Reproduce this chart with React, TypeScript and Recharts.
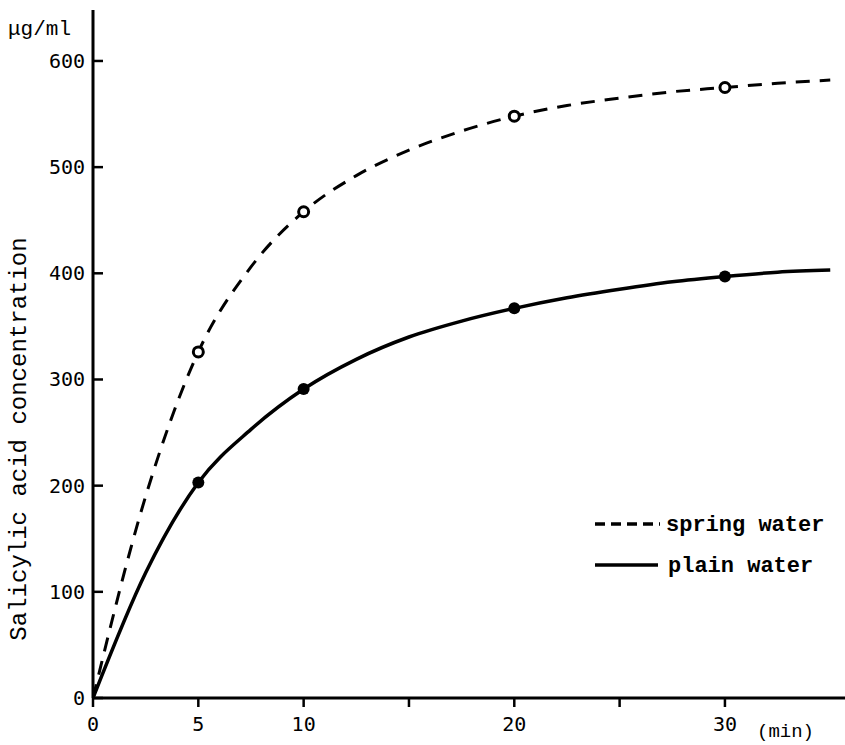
import React from "react";
import { LineChart, Line, XAxis, YAxis, Legend, Customized } from "recharts";

// minutes after ingestion
const TIME = [0, 2.5, 5, 7.5, 10, 12.5, 15, 17.5, 20, 22.5, 25, 27.5, 30, 32.5, 35];
// salicylic acid concentration (ug/ml)
const SPRING = [0, 190, 326, 406, 458, 492, 516, 534, 548, 558, 565, 571, 575, 579, 582];
const PLAIN = [0, 118, 203, 253, 291, 319, 340, 355, 367, 377, 385, 392, 397, 401, 403];
// times at which a sample was actually measured (drawn with a marker)
const MEASURED = [5, 10, 20, 30];

const X_TICKS = [0, 5, 10, 15, 20, 25, 30];
const X_LABELED = [0, 5, 10, 20, 30];
const Y_TICKS = [0, 100, 200, 300, 400, 500, 600];

const data = TIME.map((t, i) => ({ t, spring: SPRING[i], plain: PLAIN[i] }));

const NUM_FONT = "'DejaVu Sans Mono', monospace";
const TXT_FONT = "'Liberation Mono', 'Courier New', monospace";

const YTick = ({ x, y, payload }: any) => (
  <g>
    <line x1={x} x2={x + 10} y1={y} y2={y} stroke="#000" strokeWidth={2.5} />
    <text x={x - 8} y={y} dy={7} textAnchor="end" fontSize={20} fontFamily={NUM_FONT} fill="#000">
      {payload.value}
    </text>
  </g>
);

const XTick = ({ x, y, payload }: any) => (
  <g>
    <line x1={x} x2={x} y1={y} y2={y + 9} stroke="#000" strokeWidth={2.5} />
    {X_LABELED.includes(payload.value) && (
      <text x={x} y={y + 33} textAnchor="middle" fontSize={20} fontFamily={NUM_FONT} fill="#000">
        {payload.value}
      </text>
    )}
  </g>
);

const openDot = (props: any) => {
  const { cx, cy, payload, index } = props;
  if (!MEASURED.includes(payload.t)) return <g key={`s-${index}`} />;
  return <circle key={`s-${index}`} cx={cx} cy={cy} r={5} fill="#fff" stroke="#000" strokeWidth={3} />;
};

const filledDot = (props: any) => {
  const { cx, cy, payload, index } = props;
  if (!MEASURED.includes(payload.t)) return <g key={`p-${index}`} />;
  return <circle key={`p-${index}`} cx={cx} cy={cy} r={6} fill="#000" stroke="none" />;
};

const renderLegend = () => (
  <svg width={250} height={80}>
    <line x1={0} x2={65} y1={19} y2={19} stroke="#000" strokeWidth={3.5} strokeDasharray="10 6" />
    <text x={71} y={26} fontSize={22} fontWeight="bold" fontFamily={TXT_FONT} fill="#000">
      spring water
    </text>
    <line x1={0} x2={63} y1={60} y2={60} stroke="#000" strokeWidth={3.5} />
    <text x={73} y={67} fontSize={22} fontWeight="bold" fontFamily={TXT_FONT} fill="#000">
      plain water
    </text>
  </svg>
);

const Labels = () => (
  <g fontFamily={TXT_FONT} fill="#000">
    <text x={8} y={35} fontSize={21}>μg/ml</text>
    <text x={757} y={737} fontSize={19}>(min)</text>
    <text
      x={26}
      y={439}
      fontSize={24}
      textAnchor="middle"
      transform="rotate(-90, 26, 439)"
    >
      Salicylic acid concentration
    </text>
  </g>
);

export default function App() {
  return (
    <div style={{ position: "absolute", left: 0, top: 0, width: 845, height: 745, background: "#fff" }}>
      <LineChart width={845} height={745} data={data} margin={{ top: 10, right: 0, bottom: 0, left: 0 }}>
        <XAxis
          dataKey="t"
          type="number"
          domain={[0, 35.7]}
          ticks={X_TICKS}
          height={47}
          tickSize={0}
          tickMargin={0}
          tick={<XTick />}
          axisLine={{ stroke: "#000", strokeWidth: 3 }}
          tickLine={false}
          allowDataOverflow
        />
        <YAxis
          type="number"
          domain={[0, 648]}
          ticks={Y_TICKS}
          width={93}
          tickSize={0}
          tickMargin={0}
          tick={<YTick />}
          axisLine={{ stroke: "#000", strokeWidth: 3 }}
          tickLine={false}
          allowDataOverflow
        />
        <Line
          dataKey="spring"
          type="monotone"
          stroke="#000"
          strokeWidth={3}
          strokeDasharray="14 10"
          dot={openDot}
          activeDot={false}
          isAnimationActive={false}
        />
        <Line
          dataKey="plain"
          type="monotone"
          stroke="#000"
          strokeWidth={3.5}
          dot={filledDot}
          activeDot={false}
          isAnimationActive={false}
        />
        <Legend
          layout="horizontal"
          verticalAlign="middle"
          align="center"
          content={renderLegend}
          wrapperStyle={{ left: 595, top: 505, width: 250, height: 80 }}
        />
        <Customized component={Labels} />
      </LineChart>
    </div>
  );
}
